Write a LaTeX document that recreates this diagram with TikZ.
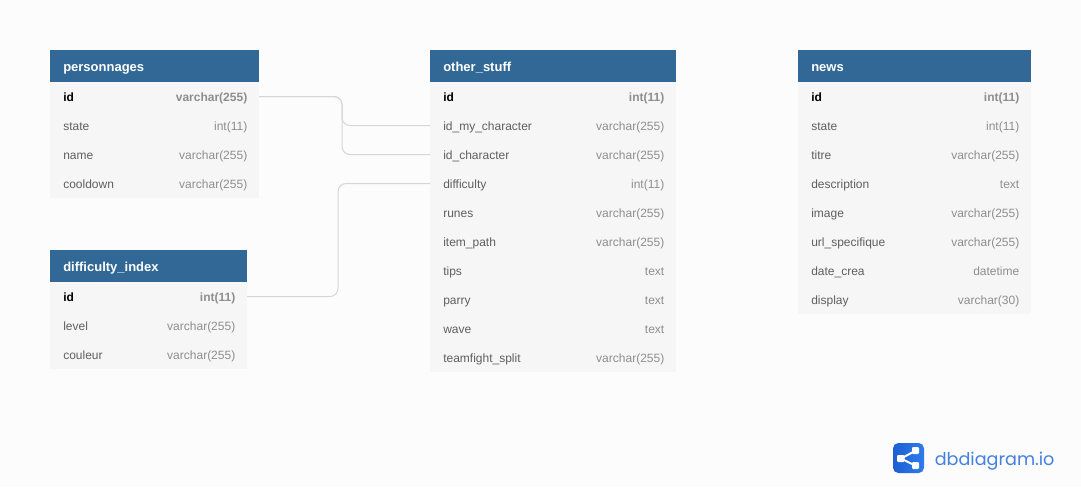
\documentclass[tikz,border=0pt]{standalone}
\usepackage{fontspec}
\setmainfont{Liberation Sans}
\newfontfamily\logofont{Poppins}
\usetikzlibrary{positioning}
\definecolor{pagebg}{HTML}{FCFCFC}
\definecolor{headblue}{HTML}{316896}
\definecolor{rowbg}{HTML}{F6F6F6}
\definecolor{keytxt}{HTML}{5F5F5F}
\definecolor{typetxt}{HTML}{8E8E8E}
\definecolor{linkgrey}{HTML}{D6D6D6}
\definecolor{logodark}{HTML}{1C5FD2}
\definecolor{logolight}{HTML}{2F7CEA}
\definecolor{logotxt}{HTML}{4480DE}
\tikzset{
  x=0.75pt,y=-0.75pt,
  header/.style={anchor=north west,fill=headblue,inner sep=0pt,outer sep=0pt},
  titlelabel/.style={anchor=base west,inner sep=0pt,text=white,font=\bfseries\fontsize{9.75}{11}\selectfont},
  rowbox/.style={anchor=north west,fill=rowbg,inner sep=0pt,outer sep=0pt},
  keylabel/.style={anchor=base west,inner sep=0pt,text=keytxt,font=\fontsize{9}{11}\selectfont},
  typelabel/.style={anchor=base east,inner sep=0pt,text=typetxt,font=\fontsize{9}{11}\selectfont},
  link/.style={draw=linkgrey,line width=0.75pt,rounded corners=6pt},
}
% name, x, y, width(px), title, first-row type, other rows
\newcommand{\dbtable}[7]{%
  \node[header,minimum width=#4*0.75pt,minimum height=24pt] (#1-h) at (#2,#3) {};
  \node[titlelabel] (#1-ht) at ([xshift=9.75pt,yshift=-4.05pt]#1-h.west) {#5};
  \node[rowbox,minimum width=#4*0.75pt,minimum height=21.75pt] (#1-1) at (#2,#3+32) {};
  \node[keylabel,text=black,font=\bfseries\fontsize{9}{11}\selectfont] (#1-1k) at ([xshift=9.75pt,yshift=-3.9pt]#1-1.west) {id};
  \node[typelabel,font=\bfseries\fontsize{9}{11}\selectfont] (#1-1t) at ([xshift=-8.6pt,yshift=-3.9pt]#1-1.east) {#6};
  \foreach \k/\t [count=\i from 2] in {#7}{
    \node[rowbox,minimum width=#4*0.75pt,minimum height=21.75pt] (#1-\i) at (#2,#3+32+29*\i-29) {};
    \node[keylabel] (#1-\i k) at ([xshift=9.75pt,yshift=-3.9pt]#1-\i.west) {\k};
    \node[typelabel] (#1-\i t) at ([xshift=-8.6pt,yshift=-3.9pt]#1-\i.east) {\t};
  }
}
\begin{document}
\begin{tikzpicture}
\useasboundingbox (0,0) rectangle (1081,487);
\fill[pagebg] (0,0) rectangle (1081,487);

\dbtable{pers}{50}{50}{209}{personnages}{varchar(255)}{state/int(11),name/varchar(255),cooldown/varchar(255)}
\dbtable{diff}{50}{250}{197}{difficulty\_index}{int(11)}{level/varchar(255),couleur/varchar(255)}
\dbtable{other}{430}{50}{246}{other\_stuff}{int(11)}{id\_my\_character/varchar(255),id\_character/varchar(255),difficulty/int(11),runes/varchar(255),item\_path/varchar(255),tips/text,parry/text,wave/text,teamfight\_split/varchar(255)}
\dbtable{news}{798}{50}{233}{news}{int(11)}{state/int(11),titre/varchar(255),description/text,image/varchar(255),url\_specifique/varchar(255),date\_crea/datetime,display/varchar(30)}

\coordinate (m1) at (342,0);
\coordinate (m2) at (338,0);
\draw[link] (pers-1.east) -- (pers-1.east -| m1) |- (other-2.west);
\draw[link] (pers-1.east) -- (pers-1.east -| m1) |- (other-3.west);
\draw[link] (diff-1.east) -- (diff-1.east -| m2) |- (other-4.west);

% logo
\shade[left color=logodark,right color=logolight,rounded corners=4pt] (893,443) rectangle (924,473);
\begin{scope}[white]
  \draw[line width=1.5pt] (915,451) -- (901,458.5) -- (915,465.5);
  \fill[rounded corners=0.8pt] (897,455) rectangle (904.5,462);
  \fill[rounded corners=0.8pt] (912,447) rectangle (919,454);
  \fill[rounded corners=0.8pt] (912,462) rectangle (919,469);
\end{scope}
\node[anchor=base west,inner sep=0pt,text=logotxt,font=\logofont\fontsize{13.2}{18}\selectfont] (logo) at (934.5,465) {dbdiagram.io};
\end{tikzpicture}
\end{document}
